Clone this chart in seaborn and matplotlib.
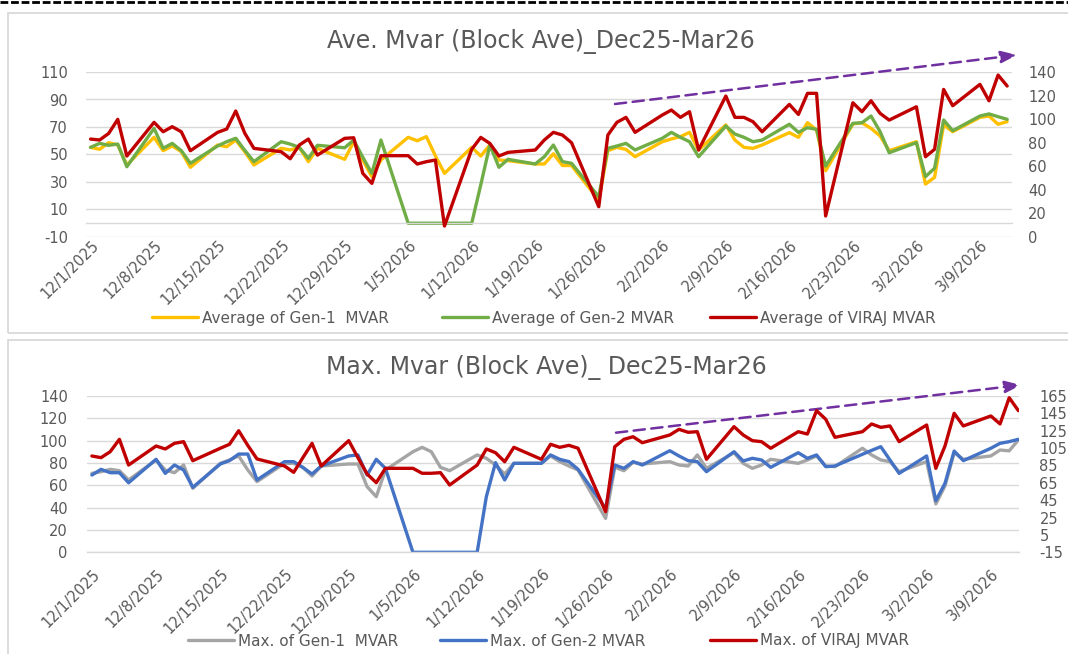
import numpy as np
import pandas as pd
import matplotlib
matplotlib.use("Agg")
import matplotlib.pyplot as plt
import matplotlib.dates as mdates
from matplotlib.ticker import FixedLocator, FuncFormatter
from matplotlib.transforms import ScaledTranslation
from matplotlib.lines import Line2D
from matplotlib.patches import Rectangle
import seaborn as sns

# ---------------- data (weekdays 1 Dec 2025 - 12 Mar 2026) ----------------
dates = pd.bdate_range("2025-12-01", "2026-03-12")

avg_gen1 = [55.2, 53.8, 58.6, 56.9, 42.4,
            62.5, 52.8, 56.2, 52.1, 40.7,
            56.9, 55.7, 60.5, 52.0, 42.4,
            54.5, 53.3, 55.2, 44.8, 54.5,
            46.5, 59.3, 46.0, 33.9, 46.0,
            62.5, 60.0, 63.0, 49.0, 36.3,
            55.2, 48.9, 56.9, 46.0, 45.5,
            43.1, 43.1, 50.5, 42.0, 42.0,
            16.9, 52.8, 55.2, 53.7, 48.4,
            59.3, 61.3, 63.0, 66.1, 53.3,
            71.5, 60.5, 55.2, 54.5, 56.9,
            65.9, 62.5, 73.1, 67.8, 38.2,
            72.2, 73.1, 69.0, 63.5, 52.8,
            59.3, 28.5, 33.4, 71.5, 66.6,
            77.0, 78.0, 72.0, 73.9]
avg_gen2 = [55.2, 58.1, 56.7, 57.6, 41.1,
            69.0, 54.5, 58.1, 52.8, 43.6,
            56.2, 59.3, 61.8, 53.0, 44.8,
            59.3, 57.6, 55.2, 47.2, 56.7,
            54.9, 60.5, 48.0, 36.3, 60.5,
            0.0, 0.0, 0.0, 0.0, 0.0,
            0.0, 28.0, 56.9, 40.7, 46.5,
            43.1, 48.4, 56.9, 44.8, 43.6,
            19.3, 54.5, 56.2, 58.1, 53.3,
            61.8, 66.1, 62.5, 59.3, 48.4,
            70.7, 64.9, 62.5, 59.3, 60.5,
            72.0, 66.1, 69.5, 68.3, 41.6,
            72.7, 73.1, 78.0, 66.6, 51.3,
            58.6, 33.9, 40.0, 75.1, 67.3,
            78.0, 79.5, 77.5, 75.6]
avg_viraj = [83.1, 82.3, 87.9, 99.8, 68.7,
             97.3, 89.3, 93.6, 89.3, 73.2,
             88.8, 91.6, 106.9, 88.0, 75.2,
             72.4, 66.4, 78.0, 83.1, 69.5,
             83.7, 84.2, 54.0, 45.5, 69.0,
             69.0, 61.9, 63.9, 65.3, 9.3,
             74.4, 84.5, 79.4, 68.7, 71.8,
             73.8, 82.3, 88.8, 86.5, 80.0,
             25.7, 86.5, 97.3, 101.5, 88.8,
             103.5, 107.7, 101.5, 106.3, 73.8,
             119.6, 101.5, 101.5, 97.8, 89.3,
             112.5, 104.0, 121.9, 121.9, 17.8,
             113.9, 106.3, 115.6, 104.9, 99.2,
             110.5, 68.1, 74.4, 125.2, 111.4,
             129.5, 115.6, 137.4, 128.1]

max_gen1 = [70.7, 72.2, 74.3, 73.1, 64.8,
            82.7, 73.7, 71.3, 78.2, 57.3,
            79.7, 82.7, 86.3, 73.7, 63.3,
            79.7, 79.7, 76.1, 68.3, 77.3,
            79.1, 79.1, 58.8, 49.8, 73.7,
            90.1, 94.0, 90.1, 76.1, 73.1,
            87.2, 84.2, 78.2, 70.1, 79.7,
            79.7, 86.3, 81.2, 77.3, 73.7,
            30.4, 76.1, 73.1, 80.6, 79.1,
            81.2, 78.2, 77.3, 87.2, 75.2,
            89.2, 79.7, 75.2, 78.2, 83.3,
            79.7, 82.7, 86.3, 77.3, 76.7,
            93.2, 87.2, 82.7, 81.2, 72.2,
            81.2, 43.3, 59.4, 89.2, 83.3,
            86.3, 91.6, 90.9, 100.6]
max_gen2 = [69.2, 74.3, 71.3, 71.3, 62.3,
            83.3, 70.7, 78.2, 73.7, 58.2,
            79.1, 82.1, 88.0, 88.0, 64.8,
            81.2, 81.2, 76.0, 70.1, 77.3,
            86.3, 87.2, 69.2, 83.3, 75.2,
            0.0, 0.0, 0.0, 0.0, 0.0,
            0.0, 49.8, 80.3, 64.8, 79.7,
            79.7, 87.2, 83.3, 81.2, 74.3,
            39.4, 78.2, 75.2, 81.2, 78.2,
            91.0, 86.3, 82.1, 81.2, 72.2,
            90.1, 81.8, 84.2, 82.7, 76.1,
            89.2, 84.2, 87.2, 76.7, 77.3,
            87.8, 91.3, 94.6, 82.7, 70.7,
            86.3, 46.2, 61.8, 90.7, 82.1,
            93.2, 97.6, 99.1, 101.2]
max_viraj = [95.9, 94.0, 100.9, 115.1, 85.5,
             107.4, 104.0, 110.5, 112.4, 90.5,
             104.8, 109.4, 125.0, 108.0, 92.5,
             84.4, 77.1, 94.0, 110.5, 84.4,
             113.6, 94.0, 75.2, 65.2, 81.7,
             81.7, 76.0, 76.0, 76.7, 62.5,
             85.5, 104.0, 99.7, 89.3, 105.9,
             92.1, 109.4, 105.9, 108.2, 104.8,
             31.8, 106.6, 115.1, 118.1, 111.2,
             120.1, 126.6, 123.2, 123.9, 92.1,
             129.7, 120.1, 113.6, 112.4, 104.8,
             123.9, 121.2, 148.1, 138.2, 117.4,
             123.9, 132.8, 128.9, 130.5, 112.4,
             131.6, 81.7, 107.4, 145.1, 130.5,
             142.0, 132.8, 163.0, 148.1]

top_labels = ["Average of Gen-1  MVAR", "Average of Gen-2 MVAR", "Average of VIRAJ MVAR"]
bot_labels = ["Max. of Gen-1  MVAR", "Max. of Gen-2 MVAR", "Max. of VIRAJ MVAR"]
top_title = "Ave. Mvar (Block Ave)_Dec25-Mar26"
bot_title = "Max. Mvar (Block Ave)_ Dec25-Mar26"

top_left_ticks = [-10, 10, 30, 50, 70, 90, 110]
top_right_ticks = [0, 20, 40, 60, 80, 100, 120, 140]
bot_left_ticks = [0, 20, 40, 60, 80, 100, 120, 140]
bot_right_ticks = [-15, 5, 25, 45, 65, 85, 105, 125, 145, 165]

# ---------------- styling ----------------
sns.set_style("white")
plt.rcParams["font.family"] = ["DejaVu Sans"]
plt.rcParams["axes.unicode_minus"] = False

YELLOW, GREEN, RED = "#FFC000", "#70AD47", "#C00000"
GRAY, BLUE, PURPLE = "#A5A5A5", "#4472C4", "#7030A0"
TXT, GRID = "#595959", "#D9D9D9"
LW = 2.4
W, H = 1068, 654
TICK_FS = 10.5
LEG_FS = 11

xdates = dates + pd.Timedelta(hours=12)   # points centred in their day slot
df_avg = pd.DataFrame({"date": xdates, top_labels[0]: avg_gen1,
                       top_labels[1]: avg_gen2, top_labels[2]: avg_viraj})
df_max = pd.DataFrame({"date": xdates, bot_labels[0]: max_gen1,
                       bot_labels[1]: max_gen2, bot_labels[2]: max_viraj})

fig = plt.figure(figsize=(W / 100, H / 100), dpi=100)
fig.patch.set_facecolor("white")

# chart frames and top dashed border
fig.add_artist(Rectangle((8 / W, 1 - 333 / H), 1.2, (333 - 13) / H, transform=fig.transFigure,
                         fill=False, edgecolor=GRID, lw=1.3))
fig.add_artist(Rectangle((8 / W, -0.2), 1.2, 0.2 + 1 - 340 / H, transform=fig.transFigure,
                         fill=False, edgecolor=GRID, lw=1.3))
fig.add_artist(Line2D([0, 1], [1 - 2 / H] * 2, transform=fig.transFigure, color="black",
                      lw=2.0, linestyle=(0, (2.8, 1.0))))

date_fmt = FuncFormatter(lambda v, p: "{d.month}/{d.day}/{d.year}".format(d=mdates.num2date(v)))


def make_panel(rect, df, labels, colors, ylim_l, ticks_l, ylim_r, ticks_r, xend, pad_l, pad_r,
               spine_at_zero):
    ax = fig.add_axes(rect)
    ax2 = ax.twinx()
    for lab, col in zip(labels[:2], colors[:2]):
        sns.lineplot(data=df, x="date", y=lab, ax=ax, color=col, lw=LW, label=lab,
                     solid_joinstyle="round", solid_capstyle="round", legend=False)
    sns.lineplot(data=df, x="date", y=labels[2], ax=ax2, color=colors[2], lw=LW, label=labels[2],
                 solid_joinstyle="round", solid_capstyle="round", legend=False)
    ax.set_xlim(pd.Timestamp("2025-12-01"), xend)
    ax.set_ylim(*ylim_l)
    ax2.set_ylim(*ylim_r)
    ax.yaxis.set_major_locator(FixedLocator(ticks_l))
    ax2.yaxis.set_major_locator(FixedLocator(ticks_r))
    ax.xaxis.set_major_locator(mdates.WeekdayLocator(byweekday=mdates.MO))
    ax.xaxis.set_major_formatter(date_fmt)
    for a in (ax, ax2):
        a.set_xlabel("")
        a.set_ylabel("")
        for s in a.spines.values():
            s.set_visible(False)
    ax.spines["bottom"].set_visible(True)
    ax.spines["bottom"].set_color(GRID)
    ax.spines["bottom"].set_linewidth(1.0)
    if spine_at_zero:
        ax.spines["bottom"].set_position(("data", 0))
    ax.yaxis.grid(True, color=GRID, lw=1.0)
    ax.xaxis.grid(False)
    ax.set_axisbelow(True)
    ax.tick_params(axis="y", length=0, pad=pad_l, labelsize=TICK_FS, labelcolor=TXT)
    ax2.tick_params(axis="y", length=0, pad=pad_r, labelsize=TICK_FS, labelcolor=TXT)
    for t in ax2.get_yticklabels():
        t.set_horizontalalignment("left")
    ax.tick_params(axis="x", direction="out", length=3.6, width=1.0, color=GRID, pad=6.5,
                   labelsize=TICK_FS, labelcolor=TXT)
    off = ScaledTranslation(5 / 100, 0, fig.dpi_scale_trans)
    for t in ax.get_xticklabels():
        t.set_rotation(45)
        t.set_horizontalalignment("right")
        t.set_verticalalignment("top")
        t.set_rotation_mode("anchor")
        t.set_transform(t.get_transform() + off)
    return ax, ax2


def trend_arrow(ax, start, tip):
    ax.annotate("", xy=tip, xycoords="axes fraction", xytext=start, textcoords="axes fraction",
                arrowprops=dict(arrowstyle="-|>,head_length=0.95,head_width=0.36", color=PURPLE,
                                lw=1.8, linestyle=(0, (4.5, 2.6)), shrinkA=0, shrinkB=0),
                annotation_clip=False)


def legend_row(labels, colors, xs, y):
    for lab, col, x in zip(labels, colors, xs):
        h = Line2D([], [], color=col, lw=LW)
        lg = fig.legend(handles=[h], labels=[lab], loc="center left",
                        bbox_to_anchor=(x / W, y), frameon=False, fontsize=LEG_FS,
                        handlelength=3.0, handletextpad=0.3, borderpad=0, borderaxespad=0)
        for t in lg.get_texts():
            t.set_color(TXT)


# ---------------- top panel ----------------
top_rect = [86 / W, 1 - 237 / H, 925.7 / W, 165 / H]
axA, axA2 = make_panel(top_rect, df_avg, top_labels, [YELLOW, GREEN, RED],
                       (-10, 110), top_left_ticks, (0, 140), top_right_ticks,
                       pd.Timestamp("2026-03-13"), 13, 12, True)
fig.text(541 / W, 1 - 48 / H, top_title, ha="center", va="baseline", fontsize=17, color=TXT)
trend_arrow(axA, ((615 - 86) / 925.7, (237 - 104) / 165), ((1017 - 86) / 925.7, (237 - 55) / 165))
legend_row(top_labels, [YELLOW, GREEN, RED], [152, 442, 710], 1 - 318 / H)

# ---------------- bottom panel ----------------
bot_rect = [87.3 / W, 1 - 552.3 / H, 932 / W, 156.3 / H]
axB, axB2 = make_panel(bot_rect, df_max, bot_labels, [GRAY, BLUE, RED],
                       (0, 140), bot_left_ticks, (-15, 165), bot_right_ticks,
                       pd.Timestamp("2025-12-01") + pd.Timedelta(days=101.6), 14, 14.5, False)
fig.text(546 / W, 1 - 374 / H, bot_title, ha="center", va="baseline", fontsize=17, color=TXT)
trend_arrow(axB, ((616 - 87.3) / 932, (552.3 - 432.7) / 156.3),
            ((1021 - 87.3) / 932, (552.3 - 385) / 156.3))
legend_row(bot_labels, [GRAY, BLUE, RED], [188, 440, 710], 1 - 641 / H)

fig.savefig("out.png", dpi=100, facecolor="white")
